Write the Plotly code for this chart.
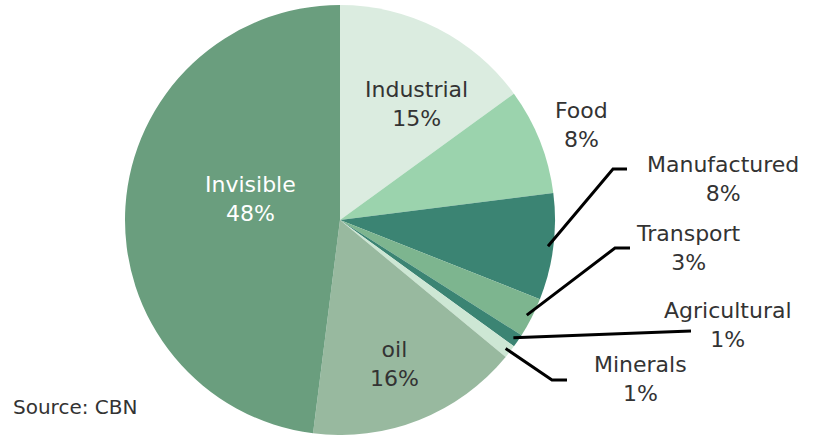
import math
import plotly.graph_objects as go

# Composition of exports (share, %)
categories = ["Industrial", "Food", "Manufactured", "Transport",
              "Agricultural", "Minerals", "oil", "Invisible"]
shares = [15, 8, 8, 3, 1, 1, 16, 48]
colors = ["#dbece0", "#9bd3ad", "#3b8473", "#7db58f",
          "#3b8473", "#cde7d4", "#98b99f", "#6a9e7e"]

W, H = 816, 435
CX, CY, R = 340, 220, 215  # pie centre and radius in pixels


def paper(x, y):
    return x / W, 1 - y / H


fig = go.Figure(go.Pie(
    labels=categories,
    values=shares,
    marker=dict(colors=colors, line=dict(width=0)),
    sort=False,
    direction="clockwise",
    rotation=0,
    textinfo="none",
    hoverinfo="label+percent",
    domain=dict(x=[(CX - R) / W, (CX + R) / W], y=[0, (2 * R) / H]),
    showlegend=False,
))

FONT = "DejaVu Sans"
TXT = "#333333"

# label block centres in pixels and text colour
label_pos = {
    "Industrial": (416, 104, TXT),
    "Food": (581, 125, TXT),
    "Manufactured": (723, 179, TXT),
    "Transport": (688, 248, TXT),
    "Agricultural": (728, 325, TXT),
    "Minerals": (640, 379, TXT),
    "oil": (394, 364, TXT),
    "Invisible": (250, 199, "#ffffff"),
}

annotations = []
for cat, val in zip(categories, shares):
    x, y, c = label_pos[cat]
    px, py = paper(x, y)
    annotations.append(dict(
        x=px, y=py, xref="paper", yref="paper", showarrow=False,
        text=f"{cat}<br>{val}%", align="center",
        font=dict(family=FONT, size=22, color=c),
        xanchor="center", yanchor="middle",
    ))

annotations.append(dict(
    x=paper(11, 407)[0], y=paper(11, 407)[1], xref="paper", yref="paper",
    showarrow=False, text="Source: CBN", xanchor="left", yanchor="middle",
    font=dict(family=FONT, size=20, color=TXT),
))

# leader lines: start on the slice's mid-angle, then elbow points
elbows = {
    "Manufactured": [(613, 169), (627, 169)],
    "Transport": [(615, 248), (630, 248)],
    "Agricultural": [(691, 331)],
    "Minerals": [(552, 380), (567, 380)],
}

shapes = []
cum = 0
for cat, val in zip(categories, shares):
    mid = (cum + val / 2) / sum(shares) * 2 * math.pi
    cum += val
    if cat not in elbows:
        continue
    sx = CX + 0.975 * R * math.sin(mid)
    sy = CY - 0.975 * R * math.cos(mid)
    pts = [(sx, sy)] + elbows[cat]
    path = "M " + " L ".join(f"{paper(x, y)[0]:.5f},{paper(x, y)[1]:.5f}" for x, y in pts)
    shapes.append(dict(type="path", path=path, xref="paper", yref="paper",
                       line=dict(color="#000000", width=3)))

fig.update_layout(
    width=W, height=H,
    margin=dict(l=0, r=0, t=0, b=0),
    paper_bgcolor="white", plot_bgcolor="white",
    annotations=annotations, shapes=shapes,
)

fig.write_html("out.html")
